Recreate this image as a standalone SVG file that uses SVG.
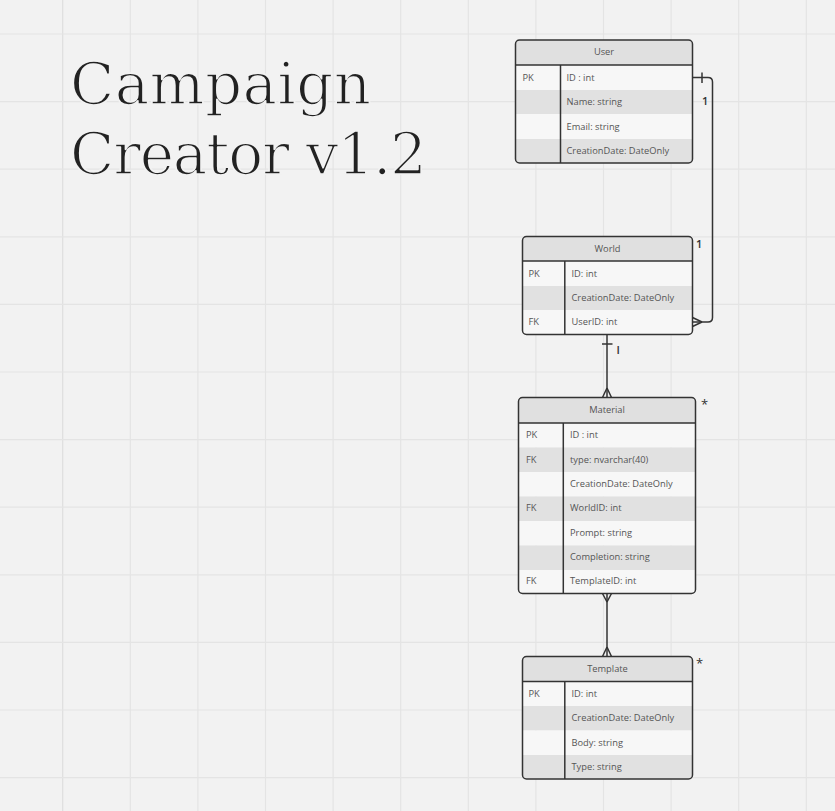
<svg xmlns="http://www.w3.org/2000/svg" width="835" height="811" viewBox="0 0 835 811">
<style>
.grid line{stroke:#e4e4e4;stroke-width:1.2}
.box{fill:none;stroke:#333;stroke-width:1.5}
.hdr{fill:#e0e0e0}
.lt{fill:#f7f7f7}
.dk{fill:#e1e1e1}
.sep{stroke:#333;stroke-width:1.5}
.t{font-family:"Open Sans","Noto Sans",sans-serif;font-size:9.3px;fill:#555}
.h{text-anchor:middle}
.conn path{fill:none;stroke:#333;stroke-width:1.5}
.lbl{font-family:"Open Sans","Noto Sans",sans-serif;font-size:11px;font-weight:600;fill:#333}
.title{font-family:"DejaVu Serif","Liberation Serif",serif;font-size:58px;fill:#222;stroke:#f2f2f2;stroke-width:1.7;stroke-linejoin:round}
</style>
<defs>
<clipPath id="cu"><rect x="515.5" y="40" width="177" height="123" rx="4"/></clipPath>
<clipPath id="cw"><rect x="522.5" y="236.5" width="170" height="98" rx="4"/></clipPath>
<clipPath id="cm"><rect x="518.5" y="397.5" width="177" height="196" rx="4"/></clipPath>
<clipPath id="ct"><rect x="522.5" y="656.5" width="170" height="122.5" rx="4"/></clipPath>
</defs>
<rect width="835" height="811" fill="#f2f2f2"/>
<g class="grid">
<line x1="62.7" y1="0" x2="62.7" y2="811" style="stroke:#dedede"/>
<line x1="130.3" y1="0" x2="130.3" y2="811"/>
<line x1="197.9" y1="0" x2="197.9" y2="811"/>
<line x1="265.5" y1="0" x2="265.5" y2="811"/>
<line x1="333.1" y1="0" x2="333.1" y2="811"/>
<line x1="400.7" y1="0" x2="400.7" y2="811"/>
<line x1="468.3" y1="0" x2="468.3" y2="811"/>
<line x1="535.9" y1="0" x2="535.9" y2="811"/>
<line x1="603.5" y1="0" x2="603.5" y2="811"/>
<line x1="671.1" y1="0" x2="671.1" y2="811"/>
<line x1="738.7" y1="0" x2="738.7" y2="811"/>
<line x1="806.3" y1="0" x2="806.3" y2="811"/>
<line x1="0" y1="34" x2="835" y2="34"/>
<line x1="0" y1="101.6" x2="835" y2="101.6"/>
<line x1="0" y1="169.2" x2="835" y2="169.2"/>
<line x1="0" y1="236.8" x2="835" y2="236.8"/>
<line x1="0" y1="304.4" x2="835" y2="304.4"/>
<line x1="0" y1="372" x2="835" y2="372"/>
<line x1="0" y1="439.6" x2="835" y2="439.6"/>
<line x1="0" y1="507.2" x2="835" y2="507.2"/>
<line x1="0" y1="574.8" x2="835" y2="574.8"/>
<line x1="0" y1="642.4" x2="835" y2="642.4"/>
<line x1="0" y1="710" x2="835" y2="710"/>
<line x1="0" y1="777.6" x2="835" y2="777.6"/>
</g>
<g id="title">
<text class="title" x="70" y="104" textLength="301" lengthAdjust="spacing">Campaign</text>
<text class="title" x="70" y="174" textLength="357" lengthAdjust="spacing">Creator v1.2</text>
</g>
<g id="user">
<g clip-path="url(#cu)">
<rect class="hdr" x="515" y="40" width="178" height="25"/>
<rect class="lt" x="515" y="65" width="178" height="25"/>
<rect class="dk" x="515" y="90" width="178" height="24"/>
<rect class="lt" x="515" y="114" width="178" height="25"/>
<rect class="dk" x="515" y="139" width="178" height="24"/>
</g>
<rect class="box" x="515.5" y="40" width="177" height="123" rx="4"/>
<line class="sep" x1="515.5" y1="65" x2="692.5" y2="65"/>
<line class="sep" x1="560.5" y1="65" x2="560.5" y2="163"/>
<text class="t h" x="604" y="55">User</text>
<text class="t" x="522.5" y="80.5">PK</text>
<text class="t" x="566.5" y="80.5">ID : int</text>
<text class="t" x="566.5" y="105">Name: string</text>
<text class="t" x="566.5" y="129.5">Email: string</text>
<text class="t" x="566.5" y="154">CreationDate: DateOnly</text>
</g>
<g id="world">
<g clip-path="url(#cw)">
<rect class="hdr" x="522" y="236" width="171" height="25"/>
<rect class="lt" x="522" y="261" width="171" height="25"/>
<rect class="dk" x="522" y="286" width="171" height="24"/>
<rect class="lt" x="522" y="310" width="171" height="25"/>
</g>
<rect class="box" x="522.5" y="236.5" width="170" height="98" rx="4"/>
<line class="sep" x1="522.5" y1="261" x2="692.5" y2="261"/>
<line class="sep" x1="564.8" y1="261" x2="564.8" y2="334.5"/>
<text class="t h" x="607.5" y="251.5">World</text>
<text class="t" x="528.5" y="276.5">PK</text>
<text class="t" x="571.5" y="276.5">ID: int</text>
<text class="t" x="571.5" y="301">CreationDate: DateOnly</text>
<text class="t" x="528.5" y="325">FK</text>
<text class="t" x="571.5" y="325">UserID: int</text>
</g>
<g id="material">
<g clip-path="url(#cm)">
<rect class="hdr" x="518" y="397" width="178" height="26"/>
<rect class="lt" x="518" y="423" width="178" height="24.5"/>
<rect class="dk" x="518" y="447.5" width="178" height="24.5"/>
<rect class="lt" x="518" y="472" width="178" height="24.5"/>
<rect class="dk" x="518" y="496.5" width="178" height="24.5"/>
<rect class="lt" x="518" y="521" width="178" height="24.5"/>
<rect class="dk" x="518" y="545.5" width="178" height="24.5"/>
<rect class="lt" x="518" y="570" width="178" height="24"/>
</g>
<rect class="box" x="518.5" y="397.5" width="177" height="196" rx="4"/>
<line class="sep" x1="518.5" y1="423" x2="695.5" y2="423"/>
<line class="sep" x1="563.3" y1="423" x2="563.3" y2="593.5"/>
<text class="t h" x="607" y="413">Material</text>
<text class="t" x="526" y="438">PK</text>
<text class="t" x="570" y="438">ID : int</text>
<text class="t" x="526" y="462.5">FK</text>
<text class="t" x="570" y="462.5">type: nvarchar(40)</text>
<text class="t" x="570" y="487">CreationDate: DateOnly</text>
<text class="t" x="526" y="511">FK</text>
<text class="t" x="570" y="511">WorldID: int</text>
<text class="t" x="570" y="535.5">Prompt: string</text>
<text class="t" x="570" y="560">Completion: string</text>
<text class="t" x="526" y="584">FK</text>
<text class="t" x="570" y="584">TemplateID: int</text>
</g>
<g id="template">
<g clip-path="url(#ct)">
<rect class="hdr" x="522" y="656" width="171" height="25.5"/>
<rect class="lt" x="522" y="681.5" width="171" height="24.5"/>
<rect class="dk" x="522" y="706" width="171" height="24.5"/>
<rect class="lt" x="522" y="730.5" width="171" height="24.5"/>
<rect class="dk" x="522" y="755" width="171" height="24.5"/>
</g>
<rect class="box" x="522.5" y="656.5" width="170" height="122.5" rx="4"/>
<line class="sep" x1="522.5" y1="681.5" x2="692.5" y2="681.5"/>
<line class="sep" x1="564.8" y1="681.5" x2="564.8" y2="779"/>
<text class="t h" x="607.5" y="672">Template</text>
<text class="t" x="528.5" y="697">PK</text>
<text class="t" x="571.5" y="697">ID: int</text>
<text class="t" x="571.5" y="721">CreationDate: DateOnly</text>
<text class="t" x="571.5" y="745.5">Body: string</text>
<text class="t" x="571.5" y="770">Type: string</text>
</g>
<g id="connectors" class="conn">
<path d="M692.5,77.5 H708 Q712.5,77.5 712.5,82 V317.5 Q712.5,322 708,322 H692.5"/>
<path d="M702,72.5 V83"/>
<path d="M702,322 L692.5,317.5 M702,322 L692.5,326.5"/>
<path d="M607,334.5 V397.5"/>
<path d="M602,344 H612.5"/>
<path d="M607,388 L602.5,397.5 M607,388 L611.5,397.5"/>
<path d="M607,593.5 V656.5"/>
<path d="M607,602 L602.5,593.5 M607,602 L611.5,593.5"/>
<path d="M607,647 L602.5,656.5 M607,647 L611.5,656.5"/>
</g>
<g id="labels">
<text class="lbl" x="702" y="105">1</text>
<text class="lbl" x="696" y="248">1</text>
<text class="lbl" x="616.5" y="353.5">I</text>
<text class="lbl" x="701" y="409" style="font-weight:400;font-size:13px">*</text>
<text class="lbl" x="696" y="668" style="font-weight:400;font-size:13px">*</text>
</g>
</svg>
